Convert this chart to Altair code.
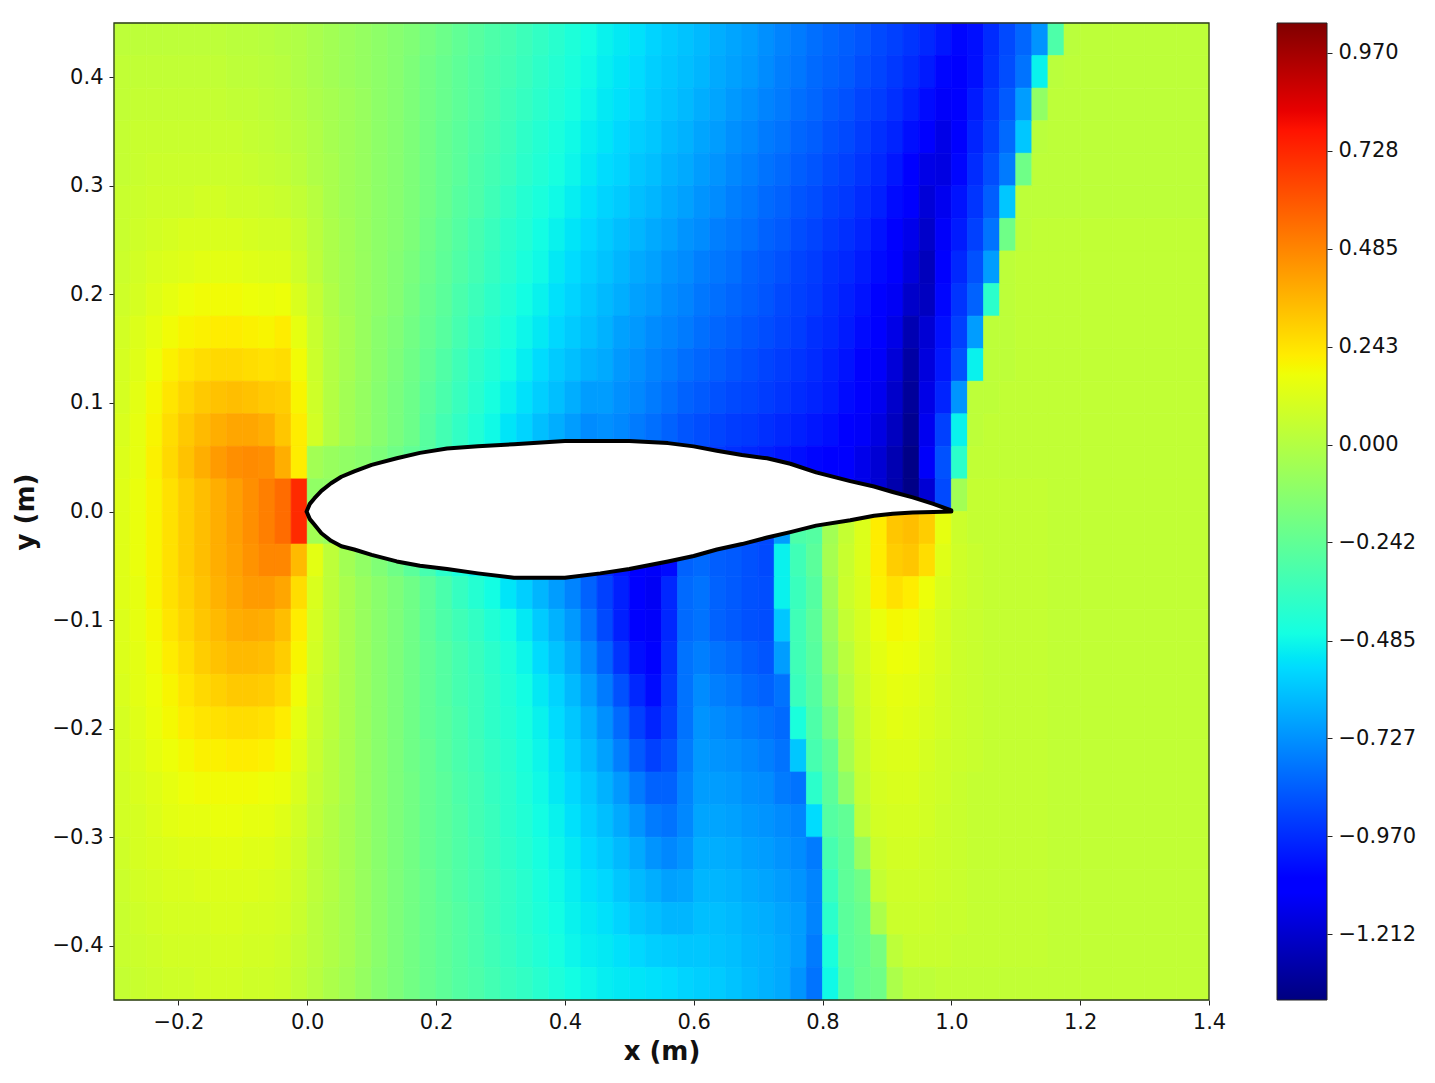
import altair as alt
import pandas as pd

# pressure-like field, value x 100, rows top (y=.435) to bottom (y=-.435)
r01 = [3,3,3,3,3,3,3,2,2,1, 0,-1,-3,-5,-7,-9,-11,-13,-15,-18, -21,-24,-27,-30,-32,-35,-38,-41,-44,-47, -50,-52,-54,-57,-59,-61,-63,-66,-68,-70, -73,-76,-78,-81,-83,-85,-87,-90,-92,-95, -98,-102,-106,-104,-97,-90,-83,-72,-30,2, 3,3,3,3]
r02 = [4,4,4,4,4,4,4,3,3,2, 1,-1,-3,-5,-7,-9,-11,-13,-16,-19, -22,-25,-28,-31,-33,-36,-39,-42,-45,-48, -51,-53,-55,-58,-60,-62,-64,-67,-69,-71, -74,-77,-79,-82,-84,-86,-89,-91,-94,-97, -101,-106,-110,-104,-96,-89,-80,-50,2,3, 3,3,3,3]
r03 = [4,5,5,5,5,5,5,4,4,3, 2,0,-2,-4,-6,-8,-11,-13,-16,-19, -22,-25,-28,-31,-34,-37,-40,-43,-46,-49, -52,-54,-56,-59,-61,-63,-66,-68,-71,-73, -76,-78,-81,-83,-86,-88,-91,-93,-96,-100, -105,-112,-110,-101,-94,-86,-70,-10,3,3, 3,3,3,3]
r04 = [5,6,6,6,6,6,6,6,5,4, 3,1,-1,-4,-6,-8,-11,-13,-16,-19, -23,-26,-29,-32,-35,-39,-42,-45,-48,-51, -53,-56,-58,-60,-63,-65,-68,-70,-73,-75, -78,-80,-83,-85,-88,-90,-93,-96,-99,-104, -110,-116,-108,-99,-92,-82,-60,2,3,3, 3,3,3,3]
r05 = [5,6,7,7,7,7,7,7,6,5, 4,2,-1,-3,-6,-8,-11,-13,-16,-19, -23,-26,-30,-33,-36,-40,-43,-46,-49,-52, -55,-57,-60,-62,-65,-67,-70,-72,-75,-77, -80,-82,-85,-87,-90,-92,-95,-98,-102,-108, -116,-117,-106,-97,-89,-78,-20,3,3,3, 3,3,3,3]
r06 = [6,7,8,8,8,9,9,8,8,7, 6,4,1,-3,-6,-8,-11,-13,-16,-19, -23,-27,-30,-34,-38,-42,-45,-48,-51,-54, -57,-59,-62,-64,-67,-69,-72,-74,-77,-79, -82,-84,-87,-89,-92,-94,-97,-100,-105,-111, -119,-114,-103,-95,-85,-60,3,3,3,3, 3,3,3,3]
r07 = [6,8,9,10,11,11,11,11,10,9, 9,6,2,-2,-5,-8,-11,-13,-16,-20, -24,-28,-32,-36,-40,-43,-47,-50,-53,-56, -59,-62,-64,-67,-69,-72,-74,-77,-79,-81, -84,-86,-89,-91,-94,-96,-99,-103,-108,-115, -122,-112,-101,-92,-80,-20,3,4,4,4, 4,4,4,4]
r08 = [7,9,11,12,13,14,14,14,13,12, 12,8,3,-2,-5,-8,-11,-14,-17,-21, -25,-29,-33,-37,-41,-45,-48,-52,-55,-58, -61,-64,-67,-69,-72,-74,-77,-79,-81,-84, -86,-88,-91,-93,-96,-98,-101,-105,-110,-118, -125,-109,-98,-88,-70,3,4,4,4,4, 4,4,4,4]
r09 = [8,10,13,15,17,18,18,18,17,16, 17,11,5,-1,-5,-8,-11,-14,-18,-22, -26,-31,-35,-39,-43,-47,-50,-54,-57,-60, -63,-66,-69,-71,-74,-76,-79,-81,-83,-85, -87,-90,-92,-94,-97,-100,-103,-107,-113,-122, -124,-106,-95,-84,-40,3,4,4,4,4, 4,4,4,4]
r10 = [9,12,15,18,20,21,22,22,21,20, 22,15,6,0,-4,-8,-12,-15,-19,-23, -27,-32,-37,-41,-45,-49,-52,-56,-59,-62, -65,-69,-71,-74,-76,-78,-81,-83,-85,-87, -89,-91,-93,-96,-98,-101,-105,-109,-116,-127, -120,-104,-92,-70,3,3,4,4,4,4, 4,4,4,4]
r11 = [10,13,17,21,24,26,27,27,26,25, 26,18,7,0,-4,-8,-12,-16,-20,-24, -29,-34,-39,-43,-47,-51,-55,-59,-62,-65, -67,-71,-73,-76,-78,-81,-83,-85,-87,-89, -91,-93,-95,-97,-100,-103,-107,-112,-119,-130, -118,-102,-88,-50,3,3,4,4,4,4, 4,4,4,4]
r12 = [10,14,19,24,28,31,33,34,33,31, 30,20,8,0,-5,-9,-13,-17,-21,-26, -31,-36,-41,-46,-50,-54,-58,-62,-66,-70, -70,-73,-75,-78,-81,-84,-86,-88,-90,-91, -93,-95,-97,-99,-101,-105,-109,-114,-122,-132, -116,-99,-72,3,3,4,4,4,4,4, 4,4,4,4]
r13 = [11,15,20,26,31,35,38,40,40,38, 32,22,9,0,-5,-9,-13,-17,-21,-27, -33,-38,-43,-48,-53,-57,-62,-66,-70,-74, -73,-75,-78,-81,-84,-87,-89,-91,-93,-94, -96,-98,-100,-102,-104,-108,-112,-117,-124,-134, -114,-92,-50,3,4,4,4,4,4,4, 4,4,4,4]
r14 = [12,15,21,27,33,38,43,46,47,46, 38,22,-5,-8,-10,-12,-16,-20,-24,-28, -34,-40,-46,-52,-57,-62,-66,-70,-74,-78, -76,-78,-81,-84,-87,-89,-92,-94,-96,-98, -100,-102,-104,-106,-108,-111,-115,-120,-127,-136, -112,-88,-40,4,4,4,4,4,4,4, 4,4,4,4]
r15 = [13,16,20,25,30,34,38,42,46,50, 55,72,-10,-10,-12,-14,-18,-22,-26,-30, -36,-42,-48,-54,-58,-62,-66,-70,-74,-78, -76,-78,-81,-84,-87,-89,-92,-94,-96,-98, -100,-102,-104,-106,-108,-111,-115,-120,-128,-136, -120,-90,-5,5,5,5,5,5,4,4, 4,4,4,4]
r16 = [13,16,20,25,30,34,38,42,46,50, 55,72,-5,-8,-12,-16,-20,-25,-30,-35, -40,-45,-50,-55,-60,-65,-70,-75,-80,-85, -90,-95,-100,-102,-90,-85,-85,-88,-88,-90, -90,-70,-30,-28,-5,5, 12,22,32,34,30,15,7,5,5,5, 5,5,4,4, 4,4,4,4]
r17 = [13,16,20,25,30,34,38,41,45,48, 48,35,14,3,-5,-10,-15,-20,-26,-32, -40,-45,-50,-55,-60,-65,-70,-75,-80,-90, -96,-102,-108,-112,-105,-84,-82,-85,-86,-88, -90,-50,-34,-26,-4,6, 12,22,30,32,26,13,8,6,5,5, 5,5,4,4, 4,4,4,4]
r18 = [13,15,20,25,29,33,37,40,43,43, 40,26,11,3,-3,-8,-12,-16,-20,-25, -31,-37,-42,-47,-53,-58,-64,-70,-76,-84, -92,-100,-108,-113,-98,-82,-80,-84,-86,-88, -89,-50,-36,-28,-6,7, 11,21,25,22,17,11,8,6,5,5, 5,5,4,4, 4,4,4,4]
r19 = [12,15,19,24,28,32,35,38,39,38, 34,22,10,3,-3,-8,-12,-16,-20,-25, -30,-34,-38,-43,-47,-52,-59,-65,-71,-80, -90,-100,-108,-112,-98,-82,-80,-84,-86,-88, -89,-60,-34,-26,-8,5, 10,16,19,18,14,10,7,6,5,5, 5,5,4,4, 4,4,4,4]
r20 = [12,14,18,22,26,30,33,35,35,34, 30,20,9,3,-3,-8,-12,-16,-20,-24, -28,-32,-36,-40,-44,-49,-55,-61,-67,-75, -84,-95,-104,-110,-96,-80,-77,-80,-82,-85, -87,-70,-34,-27,-10,2, 9,14,17,16,13,10,7,6,5,5, 5,5,4,4, 4,4,4,4]
r21 = [11,14,17,20,24,27,29,31,31,30, 27,18,8,2,-3,-8,-12,-16,-20,-24, -28,-32,-35,-39,-43,-47,-52,-57,-63,-70, -78,-88,-98,-105,-94,-80,-74,-77,-79,-82, -84,-80,-36,-28,-14,0, 8,13,15,14,12,9,7,6,5,5, 5,5,4,4, 4,4,4,4]
r22 = [10,13,16,19,22,24,25,26,26,25, 22,15,7,2,-3,-8,-12,-16,-20,-24, -27,-31,-35,-39,-42,-46,-50,-55,-60,-66, -73,-82,-92,-99,-92,-80,-72,-74,-76,-78, -80,-82,-45,-30,-18,-2, 7,12,14,13,11,9,7,6,5,5, 5,5,4,4, 4,4,4,4]
r23 = [10,12,15,17,19,21,21,22,22,21, 19,13,6,1,-3,-8,-12,-16,-20,-23, -27,-31,-34,-38,-41,-45,-49,-53,-58,-63, -69,-77,-86,-92,-88,-78,-71,-72,-73,-75, -77,-80,-60,-32,-24,-4, 6,11,12,12,10,8,7,6,5,5, 5,5,4,4, 4,4,4,4]
r24 = [9,11,13,15,17,18,18,18,18,17, 16,11,5,1,-3,-8,-12,-16,-19,-23, -26,-30,-33,-37,-40,-44,-48,-52,-56,-60, -65,-71,-78,-84,-84,-76,-70,-70,-71,-73, -74,-78,-80,-40,-26,-10, 5,10,11,11,9,8,6,5,5,5, 5,5,4,4, 4,4,4,4]
r25 = [9,10,12,14,15,15,16,16,15,15, 13,9,4,0,-4,-8,-12,-16,-19,-23, -26,-29,-33,-36,-40,-43,-47,-50,-54,-58, -62,-67,-72,-78,-80,-75,-68,-68,-69,-71, -72,-74,-76,-55,-28,-24, 3,9,10,10,9,7,6,5,5,5, 5,5,4,4, 4,4,4,4]
r26 = [8,10,11,12,13,13,14,14,13,13, 11,8,3,0,-4,-8,-12,-16,-19,-23, -26,-29,-32,-36,-39,-42,-46,-49,-52,-56, -59,-63,-67,-72,-75,-72,-66,-66,-67,-69, -70,-72,-74,-78,-32,-25, -8,7,9,9,8,7,6,5,5,5, 5,5,4,4, 4,4,4,4]
r27 = [7,9,10,11,11,12,12,12,12,11, 10,7,3,0,-4,-8,-12,-16,-19,-22, -26,-29,-32,-35,-38,-41,-45,-48,-51,-54, -56,-60,-63,-66,-69,-68,-64,-64,-65,-67, -68,-70,-72,-76,-36,-25, -20,5,8,8,8,7,6,5,5,5, 5,5,4,4, 4,4,4,4]
r28 = [6,8,9,10,10,10,11,11,10,10, 9,6,2,-1,-4,-8,-12,-16,-19,-22, -25,-28,-31,-35,-38,-41,-44,-47,-50,-52, -54,-57,-60,-62,-64,-64,-62,-62,-63,-65, -66,-68,-70,-76,-40,-26, -22,-2,7,7,7,6,6,5,5,5, 5,5,4,4, 4,4,4,4]
r29 = [6,7,8,9,9,9,10,10,9,9, 8,5,2,-1,-4,-8,-12,-16,-19,-22, -25,-28,-31,-34,-37,-40,-43,-46,-49,-51, -52,-54,-56,-58,-59,-60,-60,-61,-62,-64, -65,-67,-70,-78,-45,-26, -23,-18,3,6,6,6,5,5,5,5, 5,5,4,4, 4,4,4,4]
r30 = [5,6,7,8,8,9,9,9,8,8, 7,4,1,-2,-5,-9,-13,-16,-19,-22, -25,-28,-30,-33,-36,-38,-41,-44,-47,-49, -51,-52,-53,-54,-55,-57,-58,-59,-61,-63, -65,-67,-72,-80,-48,-28, -22,-20,-2,3,3,4,4,4,4,4, 4,4,4,4, 4,4,4,4]
rows = [r01,r02,r03,r04,r05,r06,r07,r08,r09,r10,r11,r12,r13,r14,r15,
        r16,r17,r18,r19,r20,r21,r22,r23,r24,r25,r26,r27,r28,r29,r30]

# airfoil outline
foil_x   = [-.001,.004,.011,.022,.037,.053,.073,.10,.139,.175,.217,.265,.321,.40,.455,.50,.56,.60,.636,.675,.714,.75,.79,.843,.88,.909,.94,.972,1.0]
foil_up  = [0,.007,.012,.019,.026,.032,.037,.043,.049,.054,.058,.060,.062,.065,.065,.065,.063,.060,.056,.052,.049,.044,.036,.028,.023,.018,.013,.007,.001]
foil_low = [0,-.007,-.012,-.020,-.027,-.032,-.035,-.040,-.046,-.050,-.053,-.057,-.061,-.061,-.057,-.053,-.046,-.041,-.035,-.030,-.024,-.019,-.013,-.008,-.004,-.002,-.001,-.0005,0]

x_ticks = [-.2,0,.2,.4,.6,.8,1.0,1.2,1.4]
y_ticks = [-.4,-.3,-.2,-.1,0,.1,.2,.3,.4]
cb_ticks = [0.970,0.728,0.485,0.243,0.0,-0.242,-0.485,-0.727,-0.970,-1.212]
V_MIN, V_MAX = -1.375, 1.044

# jet colormap breakpoints
jet_pos = [0,.11,.125,.34,.35,.375,.64,.65,.66,.89,.91,1]
jet_col = ['#000080','#0000ff','#0000ff','#00dbff','#00e6f7','#14ffe2','#eeff08','#f7f600','#ffec00','#ff1300','#e80000','#800000']

x_edges = [-.3 + .025*i for i in range(61)] + [1.25,1.3,1.35,1.4]
y_edges = [.45 - .03*i for i in range(31)]

recs = []
for j, row in enumerate(rows):
    assert len(row) == 64, (j + 1, len(row))
    for i, v in enumerate(row):
        recs.append(dict(x0=round(x_edges[i],4), x1=round(x_edges[i+1],4),
                         y0=round(y_edges[j+1],4), y1=round(y_edges[j],4), v=v/100))
heat_df = pd.DataFrame(recs)

FONT = "DejaVu Sans"
color_scale = alt.Scale(domain=[V_MIN + (V_MAX-V_MIN)*p for p in jet_pos], range=jet_col, interpolate='rgb')
xs = alt.Scale(domain=[-.3,1.4], nice=False, zero=False)
ys = alt.Scale(domain=[-.45,.45], nice=False, zero=False)

minus = "replace(format(datum.value,'{}'),'-','\u2212')"
x_axis = alt.Axis(values=x_ticks, labelExpr=minus.format('.1f'), title='x (m)', grid=False,
                  labelFontSize=21, titleFontSize=26, titleFontWeight='bold', tickSize=5, tickColor='#222',
                  labelColor='#111', titleColor='#111', labelPadding=6, titlePadding=6, labelFlush=False,
                  domain=False, labelOverlap=False)
y_axis = alt.Axis(values=y_ticks, labelExpr=minus.format('.1f'), title='y (m)', grid=False,
                  labelFontSize=21, titleFontSize=26, titleFontWeight='bold', tickSize=5, tickColor='#222',
                  labelColor='#111', titleColor='#111', labelPadding=6, titlePadding=14, labelFlush=False,
                  domain=False, labelOverlap=False)

heat = alt.Chart(heat_df).mark_rect(strokeWidth=0.7).encode(
    x=alt.X('x0:Q', scale=xs, axis=x_axis),
    x2='x1:Q',
    y=alt.Y('y0:Q', scale=ys, axis=y_axis),
    y2='y1:Q',
    color=alt.Color('v:Q', scale=color_scale, legend=None),
    stroke=alt.Stroke('v:Q', scale=color_scale, legend=None),
)

foil_df = pd.DataFrame(dict(x=foil_x, up=foil_up, low=foil_low))
foil_fill = alt.Chart(foil_df).mark_area(color='white', opacity=1).encode(
    x=alt.X('x:Q', scale=xs), y=alt.Y('up:Q', scale=ys), y2='low:Q')

line_x = foil_x + foil_x[::-1]
line_y = foil_up + foil_low[::-1]
line_df = pd.DataFrame(dict(x=line_x, y=line_y, o=list(range(len(line_x)))))
foil_line = alt.Chart(line_df).mark_line(color='black', strokeWidth=4, strokeJoin='round', strokeCap='round').encode(
    x=alt.X('x:Q', scale=xs), y=alt.Y('y:Q', scale=ys), order='o:Q')

frame_df = pd.DataFrame([dict(a=-.3, b=1.4, c=-.45, d=.45)])
frame = alt.Chart(frame_df).mark_rect(fill='transparent', stroke='#2b3a20', strokeWidth=1.3).encode(
    x=alt.X('a:Q', scale=xs), x2='b:Q', y=alt.Y('c:Q', scale=ys), y2='d:Q')

main = alt.layer(heat, foil_fill, foil_line, frame).properties(width=1095, height=977)

grad = alt.Gradient(gradient='linear', x1=0, x2=0, y1=1, y2=0,
                    stops=[alt.GradientStop(offset=p, color=c) for p, c in zip(jet_pos, jet_col)])
cb_df = pd.DataFrame([dict(lo=V_MIN, hi=V_MAX)])
cbar = alt.Chart(cb_df).mark_rect(fill=grad, stroke='#222', strokeWidth=1).encode(
    x=alt.value(0), x2=alt.value(50),
    y=alt.Y('lo:Q', scale=alt.Scale(domain=[V_MIN, V_MAX], nice=False, zero=False),
            axis=alt.Axis(orient='right', values=cb_ticks, labelExpr=minus.format('.3f'), title=None, grid=False,
                          labelFontSize=21, tickSize=5, tickColor='#222', labelColor='#111', labelPadding=6,
                          domain=False, labelOverlap=False, labelFlush=False)),
    y2='hi:Q',
).properties(width=50, height=977)

chart = alt.hconcat(main, cbar, spacing=50).properties(
    padding={"left": 4, "top": 14, "right": 5, "bottom": 5}
).configure_view(stroke=None).configure_axis(labelFont=FONT, titleFont=FONT)

chart.save("out.html", embed_options={"renderer": "svg", "actions": False})
